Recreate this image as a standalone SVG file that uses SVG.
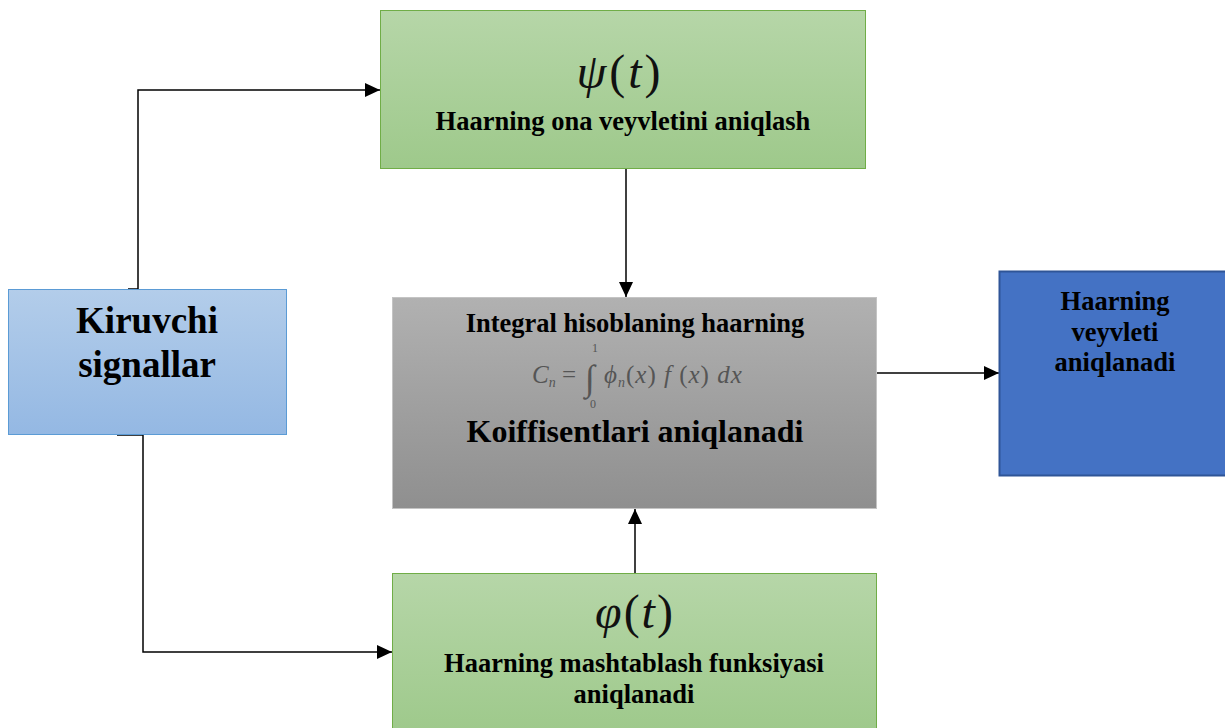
<svg xmlns="http://www.w3.org/2000/svg" width="1225" height="728" viewBox="0 0 1225 728">
<defs>
<linearGradient id="gGreen" x1="0" y1="0" x2="0" y2="1"><stop offset="0" stop-color="#b6d6a8"/><stop offset="1" stop-color="#9ec98b"/></linearGradient>
<linearGradient id="gGray" x1="0" y1="0" x2="0" y2="1"><stop offset="0" stop-color="#b1b1b1"/><stop offset="1" stop-color="#8f8f8f"/></linearGradient>
<linearGradient id="gBlue" x1="0" y1="0" x2="0" y2="1"><stop offset="0" stop-color="#b3cdea"/><stop offset="1" stop-color="#94b8e3"/></linearGradient>
<marker id="arr" markerWidth="16" markerHeight="14" refX="15" refY="7" orient="auto" markerUnits="userSpaceOnUse"><path d="M0,0 L15,7 L0,14 Z" fill="#000"/></marker>
</defs>
<style>
.t{font-family:"Liberation Serif","Times New Roman",serif;font-weight:bold;fill:#000;text-anchor:middle}
.m{font-family:"Liberation Serif","Times New Roman",serif;fill:#111;text-anchor:middle}
.f{font-family:"Liberation Serif","Times New Roman",serif;fill:#555;}
.c{fill:none;stroke:#000;stroke-width:1.5}
</style>
<g id="connectors">
<path class="c" d="M128,289 H138 V90 H380" marker-end="url(#arr)"/>
<path class="c" d="M626,169 V297" marker-end="url(#arr)"/>
<path class="c" d="M877,373 H999" marker-end="url(#arr)"/>
<path class="c" d="M117,435 H143 V652 H392" marker-end="url(#arr)"/>
<path class="c" d="M635,573 V509" marker-end="url(#arr)"/>
</g>
<g id="node-input">
<rect x="8.5" y="289.5" width="278" height="145" fill="url(#gBlue)" stroke="#5b9bd5"/>
<text class="t" x="147" y="333" font-size="37">Kiruvchi</text>
<text class="t" x="147" y="377" font-size="37">signallar</text>
</g>
<g id="node-psi">
<rect x="380.5" y="10.5" width="485" height="158" fill="url(#gGreen)" stroke="#70ad47"/>
<text class="m" x="620" y="88" font-size="48" letter-spacing="3"><tspan font-style="italic">ψ</tspan>(<tspan font-style="italic">t</tspan>)</text>
<text class="t" x="623" y="130" font-size="26.5">Haarning ona veyvletini aniqlash</text>
</g>
<g id="node-integral">
<rect x="392.5" y="297.5" width="484" height="211" fill="url(#gGray)" stroke="#c4c4c4"/>
<text class="t" x="635" y="332" font-size="26.5">Integral hisoblaning haarning</text>
<text class="f" x="532" y="383" font-size="25" font-style="italic">C<tspan font-size="14" dy="4">n</tspan><tspan dy="-4" font-style="normal"> = </tspan></text>
<text class="f" x="585" y="390" font-size="36" font-style="italic">∫</text>
<text class="f" x="592" y="352" font-size="12">1</text>
<text class="f" x="590" y="408" font-size="12">0</text>
<text class="f" x="604" y="383" font-size="25" letter-spacing="1"><tspan font-style="italic">ϕ</tspan><tspan font-size="14" dy="4" font-style="italic">n</tspan><tspan dy="-4">(</tspan><tspan font-style="italic">x</tspan>)<tspan font-style="italic"> f </tspan>(<tspan font-style="italic">x</tspan>)<tspan font-style="italic"> dx</tspan></text>
<text class="t" x="635" y="442" font-size="32">Koiffisentlari aniqlanadi</text>
</g>
<g id="node-phi">
<rect x="392.5" y="573.5" width="484" height="160" fill="url(#gGreen)" stroke="#70ad47"/>
<text class="m" x="635" y="628" font-size="48" letter-spacing="2"><tspan font-style="italic">φ</tspan>(<tspan font-style="italic">t</tspan>)</text>
<text class="t" x="634" y="672" font-size="26.5">Haarning mashtablash funksiyasi</text>
<text class="t" x="634" y="703" font-size="26.5">aniqlanadi</text>
</g>
<g id="node-output">
<rect x="999.5" y="271.5" width="230" height="204" fill="#4472c4" stroke="#2f5597" stroke-width="2"/>
<text class="t" x="1115" y="310" font-size="26.5">Haarning</text>
<text class="t" x="1115" y="341" font-size="26.5">veyvleti</text>
<text class="t" x="1115" y="371" font-size="26.5">aniqlanadi</text>
</g>
</svg>
